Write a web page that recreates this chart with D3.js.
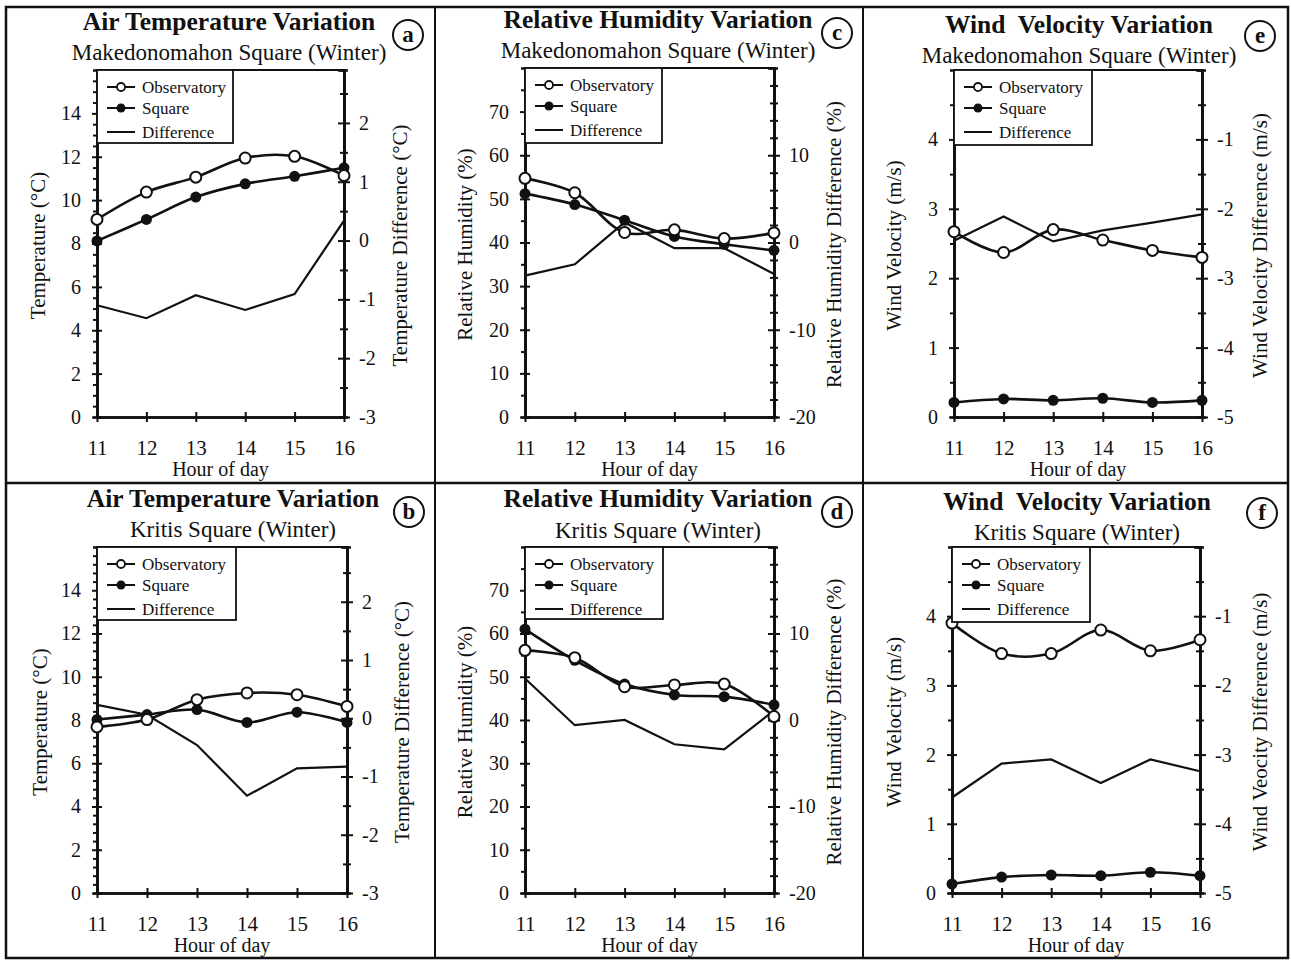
<!DOCTYPE html>
<html><head><meta charset="utf-8">
<script src="https://cdn.jsdelivr.net/npm/d3@7"></script>
<style>
body{margin:0;background:#fff}
text{font-family:"Liberation Serif","Times New Roman",serif;fill:#111;white-space:pre}
</style>
</head><body>
<svg id="chart" width="1291" height="961"></svg>
<script>
// ---------- data ----------
const hours = [11, 12, 13, 14, 15, 16];
const seriesNames = ["Observatory", "Square", "Difference"];

const tempMakObs  = [9.11, 10.37, 11.06, 11.94, 12.02, 11.13];
const tempMakSq   = [8.12, 9.11, 10.14, 10.75, 11.10, 11.49];
const tempMakDiff = [-1.10, -1.32, -0.93, -1.18, -0.91, 0.34];

const tempKriObs  = [7.68, 8.02, 8.94, 9.25, 9.17, 8.63];
const tempKriSq   = [8.02, 8.25, 8.48, 7.89, 8.36, 7.89];
const tempKriDiff = [0.23, 0.06, -0.46, -1.33, -0.86, -0.83];

const rhMakObs  = [54.7, 51.4, 42.3, 42.9, 40.9, 42.2];
const rhMakSq   = [51.2, 48.7, 45.1, 41.4, 39.6, 38.2];
const rhMakDiff = [-3.8, -2.5, 2.3, -0.65, -0.65, -3.6];

const rhKriObs  = [56.1, 54.4, 47.7, 48.1, 48.3, 40.8];
const rhKriSq   = [61.0, 53.8, 48.3, 45.8, 45.4, 43.5];
const rhKriDiff = [4.8, -0.6, 0.0, -2.8, -3.4, 1.1];

const wvMakObs  = [2.67, 2.37, 2.70, 2.55, 2.40, 2.30];
const wvMakSq   = [0.21, 0.26, 0.24, 0.27, 0.21, 0.24];
const wvMakDiff = [-2.46, -2.11, -2.47, -2.31, -2.20, -2.08];

const wvKriObs  = [3.90, 3.46, 3.46, 3.80, 3.50, 3.66];
const wvKriSq   = [0.13, 0.23, 0.26, 0.25, 0.30, 0.25];
const wvKriDiff = [-3.62, -3.13, -3.07, -3.41, -3.07, -3.24];

const tempLeftTicks = [0, 2, 4, 6, 8, 10, 12, 14];
const tempRightTicks = [-3, -2, -1, 0, 1, 2];
const rhLeftTicks = [0, 10, 20, 30, 40, 50, 60, 70];
const rhRightTicks = [-20, -10, 0, 10];
const wvLeftTicks = [0, 1, 2, 3, 4];
const wvRightTicks = [-5, -4, -3, -2, -1];

// ---------- layout ----------
const svg = d3.select("#chart");

const panels = [
  {title:"Air Temperature Variation", sub:"Makedonomahon Square (Winter)", letter:"a",
   tx:229, ty:30, sy:60, cx:408, cy:35,
   x0:97, x1:344, y0:70, y1:417, lgW:136, lgH:73,
   yL:[0,16], yR:[-3,2.9], lt:tempLeftTicks, rt:tempRightTicks, lMinor:0.5, rMinor:0.5,
   yLab:"Temperature (°C)", yRLab:"Temperature Difference (°C)", lx:38, rx:400,
   obs:tempMakObs, sq:tempMakSq, diff:tempMakDiff},
  {title:"Air Temperature Variation", sub:"Kritis Square (Winter)", letter:"b",
   tx:233, ty:507, sy:537, cx:409, cy:512,
   x0:97, x1:347, y0:547, y1:893, lgW:139, lgH:73,
   yL:[0,16], yR:[-3,2.94], lt:tempLeftTicks, rt:tempRightTicks, lMinor:0.4, rMinor:0.5,
   yLab:"Temperature (°C)", yRLab:"Temperature Difference (°C)", lx:40, rx:402,
   obs:tempKriObs, sq:tempKriSq, diff:tempKriDiff},
  {title:"Relative Humidity Variation", sub:"Makedonomahon Square (Winter)", letter:"c",
   tx:658, ty:28, sy:58, cx:837, cy:33,
   x0:525, x1:774, y0:68, y1:417, lgW:137, lgH:75,
   yL:[0,80], yR:[-20,20], lt:rhLeftTicks, rt:rhRightTicks, lMinor:5, rMinor:2,
   yLab:"Relative Humidity (%)", yRLab:"Relative Humidity Difference (%)", lx:465, rx:834,
   obs:rhMakObs, sq:rhMakSq, diff:rhMakDiff},
  {title:"Relative Humidity Variation", sub:"Kritis Square (Winter)", letter:"d",
   tx:658, ty:507, sy:538, cx:837, cy:512,
   x0:525, x1:774, y0:547, y1:893, lgW:138, lgH:72,
   yL:[0,80], yR:[-20,20], lt:rhLeftTicks, rt:rhRightTicks, lMinor:5, rMinor:2,
   yLab:"Relative Humidity (%)", yRLab:"Relative Humidity Difference (%)", lx:465, rx:834,
   obs:rhKriObs, sq:rhKriSq, diff:rhKriDiff},
  {title:"Wind  Velocity Variation", sub:"Makedonomahon Square (Winter)", letter:"e",
   tx:1079, ty:33, sy:63, cx:1260, cy:36,
   x0:954, x1:1202, y0:70, y1:417, lgW:138, lgH:75,
   yL:[0,5], yR:[-5,0], lt:wvLeftTicks, rt:wvRightTicks, lMinor:0.5, rMinor:0.5,
   yLab:"Wind Velocity (m/s)", yRLab:"Wind Velocity Difference (m/s)", lx:894, rx:1260,
   obs:wvMakObs, sq:wvMakSq, diff:wvMakDiff},
  {title:"Wind  Velocity Variation", sub:"Kritis Square (Winter)", letter:"f",
   tx:1077, ty:510, sy:540, cx:1262, cy:513,
   x0:952, x1:1200, y0:547, y1:893, lgW:138, lgH:75,
   yL:[0,5], yR:[-5,0], lt:wvLeftTicks, rt:wvRightTicks, lMinor:0.5, rMinor:0.5,
   yLab:"Wind Velocity (m/s)", yRLab:"Wind Veocity Difference (m/s)", lx:894, rx:1260,
   obs:wvKriObs, sq:wvKriSq, diff:wvKriDiff}
];

// outer frame and separators
svg.append("rect").attr("x",6).attr("y",7).attr("width",1282).attr("height",951)
  .attr("fill","none").attr("stroke","#111").attr("stroke-width",2.5);
svg.append("line").attr("x1",435).attr("x2",435).attr("y1",7).attr("y2",958).attr("stroke","#111").attr("stroke-width",2);
svg.append("line").attr("x1",863).attr("x2",863).attr("y1",7).attr("y2",958).attr("stroke","#111").attr("stroke-width",2);
svg.append("line").attr("x1",6).attr("x2",1288).attr("y1",483).attr("y2",483).attr("stroke","#111").attr("stroke-width",2.5);

function rangeTicks(lo, hi, step){
  const out=[]; const n=Math.floor((hi-lo)/step+1e-6);
  for(let i=0;i<=n;i++){ out.push(+(lo+i*step).toFixed(6)); }
  return out;
}
const fmt = d => String(d);

panels.forEach(p => {
  const g = svg.append("g");
  const x = d3.scaleLinear().domain([11,16]).range([p.x0,p.x1]);
  const yL = d3.scaleLinear().domain(p.yL).range([p.y1,p.y0]);
  const yR = d3.scaleLinear().domain(p.yR).range([p.y1,p.y0]);

  // titles
  g.append("text").attr("x",p.tx).attr("y",p.ty).attr("text-anchor","middle")
    .attr("font-size",25.5).attr("font-weight","bold").text(p.title);
  g.append("text").attr("x",p.tx).attr("y",p.sy).attr("text-anchor","middle")
    .attr("font-size",23).text(p.sub);
  g.append("circle").attr("cx",p.cx).attr("cy",p.cy).attr("r",15)
    .attr("fill","none").attr("stroke","#111").attr("stroke-width",2);
  g.append("text").attr("x",p.cx).attr("y",p.cy+7).attr("text-anchor","middle")
    .attr("font-size",23).attr("font-weight","bold").text(p.letter);

  // frame top line
  g.append("line").attr("x1",p.x0).attr("x2",p.x1).attr("y1",p.y0).attr("y2",p.y0)
    .attr("stroke","#111").attr("stroke-width",2);

  // left axis
  const lMinor = rangeTicks(p.yL[0], p.yL[1]-0.001, p.lMinor).filter(v=>!p.lt.includes(v));
  g.append("g").attr("class","ax").attr("transform",`translate(${p.x0},0)`)
    .call(d3.axisLeft(yL).tickValues(p.lt).tickSizeInner(5).tickSizeOuter(0).tickPadding(11).tickFormat(fmt));
  g.append("g").attr("transform",`translate(${p.x0},0)`)
    .call(d3.axisLeft(yL).tickValues(p.lt).tickSize(-5).tickFormat(""));
  g.append("g").attr("transform",`translate(${p.x0},0)`)
    .call(d3.axisLeft(yL).tickValues(lMinor).tickSize(4).tickFormat(""));

  // right axis
  const rMinor = rangeTicks(p.yR[0], p.yR[1], p.rMinor).filter(v=>!p.rt.includes(v) && v < p.yR[1]);
  g.append("g").attr("class","ax").attr("transform",`translate(${p.x1},0)`)
    .call(d3.axisRight(yR).tickValues(p.rt).tickSizeInner(6).tickSizeOuter(0).tickPadding(9).tickFormat(fmt));
  g.append("g").attr("transform",`translate(${p.x1},0)`)
    .call(d3.axisRight(yR).tickValues(p.rt).tickSize(-6).tickFormat(""));
  g.append("g").attr("transform",`translate(${p.x1},0)`)
    .call(d3.axisRight(yR).tickValues(rMinor).tickSize(4).tickFormat(""));
  g.append("g").attr("transform",`translate(${p.x1},0)`)
    .call(d3.axisRight(yR).tickValues(rMinor).tickSize(-4).tickFormat(""));

  // bottom axis
  g.append("g").attr("class","axb").attr("transform",`translate(0,${p.y1})`)
    .call(d3.axisBottom(x).tickValues(hours).tickSizeInner(5).tickSizeOuter(0).tickPadding(18).tickFormat(fmt));
  g.append("g").attr("transform",`translate(0,${p.y1})`)
    .call(d3.axisBottom(x).tickValues(hours).tickSize(-5).tickFormat(""));

  g.selectAll(".domain").attr("stroke","#111").attr("stroke-width",2.5);
  g.selectAll(".tick line").attr("stroke","#111").attr("stroke-width",2);
  g.selectAll(".tick text").attr("font-size",20).attr("font-family","Liberation Serif").attr("fill","#111");
  g.selectAll(".axb .tick text").attr("font-size",21);

  // axis titles
  g.append("text").attr("x",(p.x0+p.x1)/2).attr("y",p.y1+59).attr("text-anchor","middle")
    .attr("font-size",20).text("Hour of day");
  g.append("text").attr("transform",`translate(${p.lx},${(p.y0+p.y1)/2+2}) rotate(-90)`)
    .attr("text-anchor","middle").attr("dy","0.35em").attr("font-size",21).text(p.yLab);
  g.append("text").attr("transform",`translate(${p.rx},${(p.y0+p.y1)/2+2}) rotate(-90)`)
    .attr("text-anchor","middle").attr("dy","0.35em").attr("font-size",21).text(p.yRLab);

  // lines
  const lineL = d3.line().x((d,i)=>x(hours[i])).y(d=>yL(d)).curve(d3.curveCatmullRom.alpha(0.5));
  const lineR = d3.line().x((d,i)=>x(hours[i])).y(d=>yR(d));
  g.append("path").attr("d",lineR(p.diff)).attr("fill","none").attr("stroke","#111").attr("stroke-width",2.2);
  g.append("path").attr("d",lineL(p.sq)).attr("fill","none").attr("stroke","#111").attr("stroke-width",2.6);
  g.append("path").attr("d",lineL(p.obs)).attr("fill","none").attr("stroke","#111").attr("stroke-width",2.6);
  g.selectAll(".sq").data(p.sq).join("circle").attr("cx",(d,i)=>x(hours[i])).attr("cy",d=>yL(d))
    .attr("r",5.5).attr("fill","#111");
  g.selectAll(".ob").data(p.obs).join("circle").attr("cx",(d,i)=>x(hours[i])).attr("cy",d=>yL(d))
    .attr("r",5.5).attr("fill","#fff").attr("stroke","#111").attr("stroke-width",2);

  // legend
  const lg = g.append("g").attr("transform",`translate(${p.x0},${p.y0})`);
  lg.append("rect").attr("width",p.lgW).attr("height",p.lgH).attr("fill","#fff")
    .attr("stroke","#111").attr("stroke-width",1.8);
  const rows = [17, 38, 62];
  seriesNames.forEach((name,i) => {
    lg.append("line").attr("x1",10).attr("x2",38).attr("y1",rows[i]).attr("y2",rows[i])
      .attr("stroke","#111").attr("stroke-width",2);
    if(i===0) lg.append("circle").attr("cx",24).attr("cy",rows[i]).attr("r",4).attr("fill","#fff").attr("stroke","#111").attr("stroke-width",1.8);
    if(i===1) lg.append("circle").attr("cx",24).attr("cy",rows[i]).attr("r",4.5).attr("fill","#111");
    lg.append("text").attr("x",45).attr("y",rows[i]).attr("dy","0.33em").attr("font-size",17)
      .attr("fill","#333").text(name);
  });
});
</script>
</body></html>
